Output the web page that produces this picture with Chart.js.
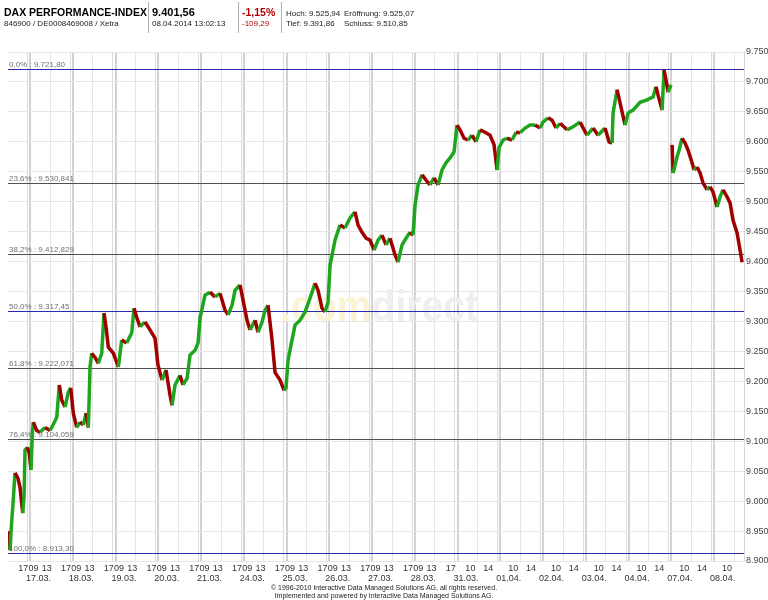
<!DOCTYPE html>
<html><head><meta charset="utf-8">
<script src="https://cdn.jsdelivr.net/npm/chart.js@4.4.1/dist/chart.umd.min.js"></script>
<style>
html,body{margin:0;padding:0;background:#fff;}
body{width:768px;height:600px;position:relative;overflow:hidden;font-family:"Liberation Sans",Arial,sans-serif;}
#c{position:absolute;left:0;top:0;}
.t{position:absolute;white-space:nowrap;color:#000;}
.b{font-weight:bold;font-size:10.5px;}
.s{font-size:8px;color:#222;}
.sep{position:absolute;top:2px;width:1px;height:31px;background:#b0b0b0;}
.red{color:#b00000;}
.foot{position:absolute;left:0;width:768px;text-align:center;font-size:7px;color:#222;}
</style></head><body>
<canvas id="c" width="768" height="600"></canvas>
<div class="t b" style="left:4px;top:6px;">DAX PERFORMANCE-INDEX</div>
<div class="t s" style="left:4px;top:19px;">846900 / DE0008469008 / Xetra</div>
<div class="sep" style="left:148px"></div>
<div class="t b" style="left:152px;top:6px;font-size:11px;">9.401,56</div>
<div class="t s" style="left:152px;top:19px;">08.04.2014 13:02:13</div>
<div class="sep" style="left:238px"></div>
<div class="t b red" style="left:242px;top:6px;font-size:10.5px;">-1,15%</div>
<div class="t s red" style="left:242px;top:19px;">-109,29</div>
<div class="sep" style="left:281px"></div>
<div class="t s" style="left:286px;top:9px;">Hoch: 9.525,94</div>
<div class="t s" style="left:344px;top:9px;">Eröffnung: 9.525,07</div>
<div class="t s" style="left:286px;top:19px;">Tief: 9.391,86</div>
<div class="t s" style="left:344px;top:19px;">Schluss: 9.510,85</div>
<div class="foot" style="top:584px;">© 1996-2010 Interactive Data Managed Solutions AG, all rights reserved.</div>
<div class="foot" style="top:592px;">Implemented and powered by Interactive Data Managed Solutions AG.</div>
<script>
// ---- data (time in trading days from 17.03.2014 09:00; price in index points)
const times = [-0.515,-0.491,-0.468,-0.428,-0.405,-0.351,-0.281,-0.234,-0.171,-0.140,-0.117,-0.063,-0.016,0.023,0.054,0.077,0.157,0.234,0.351,0.468,0.538,0.625,0.685,0.742,0.819,0.896,0.952,
1.013,1.092,1.170,1.247,1.310,1.364,1.404,1.443,1.520,1.598,1.677,1.731,1.778,1.832,1.949,
2.066,2.145,2.262,2.379,2.433,2.496,2.573,2.690,2.807,2.924,
2.994,3.088,3.181,3.275,3.322,3.392,3.509,3.579,3.673,3.743,3.860,3.930,
3.977,4.094,4.211,4.327,4.444,4.561,4.632,4.725,4.795,4.912,
4.982,5.076,5.146,5.263,5.333,5.427,5.497,5.567,5.661,5.731,5.848,5.942,5.988,
6.035,6.105,6.199,6.316,6.433,6.550,6.667,6.737,6.830,6.901,6.971,
7.018,7.135,7.251,7.368,7.485,7.602,7.673,7.766,7.860,7.953,
8.047,8.140,8.234,8.327,8.421,8.538,8.608,8.702,8.795,8.889,8.959,
9.006,9.076,9.170,9.263,9.357,9.450,9.544,9.637,9.731,9.825,9.918,
9.988,10.058,10.152,10.246,10.339,10.433,10.526,10.643,10.760,10.854,10.924,
10.971,11.064,11.158,11.275,11.368,11.462,11.579,11.696,11.813,11.930,
12.000,12.117,12.211,12.304,12.398,12.561,12.702,12.865,
13.029,13.170,13.287,13.450,13.544,13.614,13.637,13.731,13.801,13.918,13.988,
14.105,14.269,14.433,14.573,14.643,14.690,14.784,14.830,14.877,14.924,14.994,
15.006,
15.018,15.041,15.135,15.181,15.251,15.322,15.392,15.485,15.532,15.602,15.673,15.743,15.836,15.906,15.977,
16.070,16.140,16.211,16.304,16.374,16.444,16.538,16.608,16.655];
const prices = [8935,8950,8918,8968,8988,9047,9038,9023,8980,9007,9085,9090,9080,9052,9113,9132,9118,9115,9123,9118,9127,9140,9194,9169,9157,9182,9189,
9147,9123,9132,9127,9147,9123,9224,9247,9240,9230,9247,9314,9291,9257,9247,
9224,9269,9264,9281,9322,9307,9291,9299,9286,9272,
9227,9202,9219,9177,9160,9194,9210,9194,9205,9244,9252,9264,
9306,9344,9349,9341,9347,9319,9311,9327,9352,9361,
9336,9302,9286,9302,9282,9299,9319,9327,9269,9215,9202,9185,9189,
9235,9261,9294,9302,9316,9339,9364,9352,9322,9316,9332,
9394,9436,9461,9456,9473,9483,9461,9449,9439,9436,
9419,9436,9444,9428,9439,9411,9399,9428,9439,9449,9444,
9494,9528,9545,9536,9528,9540,9528,9553,9565,9573,9583,
9628,9620,9606,9603,9611,9600,9620,9616,9611,9595,9553,
9590,9603,9606,9603,9616,9615,9623,9628,9628,9623,
9633,9640,9636,9623,9631,9620,9625,9633,
9611,9623,9611,9623,9600,9598,9648,9687,9665,9628,9648,
9653,9666,9670,9675,9692,9678,9653,9720,9703,9683,9695,
null,
9595,9548,9575,9586,9606,9598,9586,9565,9553,9558,9548,9531,9520,9525,9516,
9491,9508,9520,9508,9498,9469,9448,9419,9399];

const dayLabels = ['17.03.','18.03.','19.03.','20.03.','21.03.','24.03.','25.03.','26.03.','27.03.','28.03.','31.03.','01.04.','02.04.','03.04.','04.04.','07.04.','08.04.'];
const hourLabels = [['17','09','13'],['17','09','13'],['17','09','13'],['17','09','13'],['17','09','13'],['17','09','13'],['17','09','13'],['17','09','13'],['17','09','13'],['17','09','13'],
  ['17','10','14'],['10','14'],['10','14'],['10','14'],['10','14'],['10','14'],['10']];
const fibPct = ['0,0%','23,6%','38,2%','50,0%','61,8%','76,4%','100,0%'];
const fibValues = [9721.80,9530.841,9412.829,9317.45,9222.071,9104.059,8913.30];
const fibText = ['9.721,80','9.530,841','9.412,829','9.317,45','9.222,071','9.104,059','8.913,30'];
const yMin = 8900, yMax = 9750, yStep = 50;

const points = times.map((t,i)=>({x:t,y:prices[i]}));
const UP = '#1ea51e', DOWN = '#a00000';

function fmtTh(v){const s=String(Math.round(v));return s.length>3?s.slice(0,-3)+'.'+s.slice(-3):s;}

function hourOffsets(k){
  if(k<10) return [-0.16,0.08,0.39];
  if(k===10) return [-0.16,0.30,0.72];
  return [0.30,0.72];
}

const gridTicks = [];
for(let k=0;k<dayLabels.length;k++){
  gridTicks.push({value:k-0.06,kind:1});
  gridTicks.push({value:k,kind:2});
  gridTicks.push({value:k+0.47,kind:0});
}

const bgPlugin = {
  id:'bg',
  beforeDatasetsDraw(chart){
    const {ctx,chartArea:a,scales:{y}} = chart;
    ctx.save();
    ctx.font = 'bold 44px "Liberation Sans", Arial, sans-serif';
    ctx.textBaseline = 'alphabetic';
    const w1 = ctx.measureText('.com').width, w2 = ctx.measureText('direct').width;
    const sx = 198/(w1+w2);
    ctx.translate(280,321); ctx.scale(sx,1);
    ctx.fillStyle = '#fbf3d6'; ctx.fillText('.com',0,0);
    ctx.fillStyle = '#efefef'; ctx.fillText('direct',w1,0);
    ctx.restore();
    ctx.save();
    fibValues.forEach((v,i)=>{
      const py = Math.round(y.getPixelForValue(v))+0.5;
      const blue = (i===0||i===3||i===6);
      ctx.strokeStyle = blue ? '#2b2bb0' : '#505050';
      ctx.lineWidth = 1;
      ctx.beginPath(); ctx.moveTo(a.left,py); ctx.lineTo(a.right,py); ctx.stroke();
      ctx.font = '8px "Liberation Sans", Arial, sans-serif';
      ctx.fillStyle = '#707070';
      ctx.textBaseline = 'bottom';
      ctx.fillText(fibPct[i]+' : '+fibText[i], a.left+1, py-1);
    });
    ctx.restore();
  },
  afterDraw(chart){
    const {ctx,scales:{x}} = chart;
    ctx.save();
    ctx.font = '9px "Liberation Sans", Arial, sans-serif';
    ctx.fillStyle = '#333';
    ctx.textAlign = 'center';
    ctx.textBaseline = 'alphabetic';
    dayLabels.forEach((d,k)=>{
      ctx.fillText(d, x.getPixelForValue(k+0.2), 581);
      const offs = hourOffsets(k);
      hourLabels[k].forEach((h,j)=>{
        ctx.fillText(h, x.getPixelForValue(k+offs[j]), 571);
      });
    });
    ctx.restore();
  }
};

new Chart(document.getElementById('c'),{
  type:'line',
  data:{datasets:[
    {data:points,borderWidth:3.5,pointRadius:0,tension:0,spanGaps:false,
     borderColor:DOWN,borderJoinStyle:'miter',
     segment:{borderColor:c=>c.p1.parsed.y>=c.p0.parsed.y?UP:DOWN}}
  ]},
  options:{
    responsive:false,animation:false,
    layout:{padding:{left:8,top:52,right:0,bottom:39}},
    plugins:{legend:{display:false},tooltip:{enabled:false}},
    scales:{
      x:{type:'linear',min:-0.515,max:16.70,
        afterBuildTicks:s=>{s.ticks=gridTicks.map(g=>({value:g.value,kind:g.kind}));},
        afterFit:s=>{s.height=0;},
        ticks:{display:false},
        border:{display:false},
        grid:{drawTicks:false,
          color:c=>{const k=c.tick&&c.tick.kind;return k===2?'#d2d2d2':(k===1?'#dcdcdc':'#e6e6e6');},
          lineWidth:c=>{const k=c.tick&&c.tick.kind;return k===2?2:1;}}
      },
      y:{position:'right',min:yMin,max:yMax,
        afterFit:s=>{s.width=24;},
        ticks:{stepSize:yStep,padding:2,color:'#444',font:{family:'"Liberation Sans", Arial, sans-serif',size:9},
          callback:v=>fmtTh(v)},
        border:{display:true,color:'#d8d8d8'},
        grid:{drawTicks:false,color:'#e6e6e6',lineWidth:1}
      }
    }
  },
  plugins:[bgPlugin]
});
</script>
</body></html>
